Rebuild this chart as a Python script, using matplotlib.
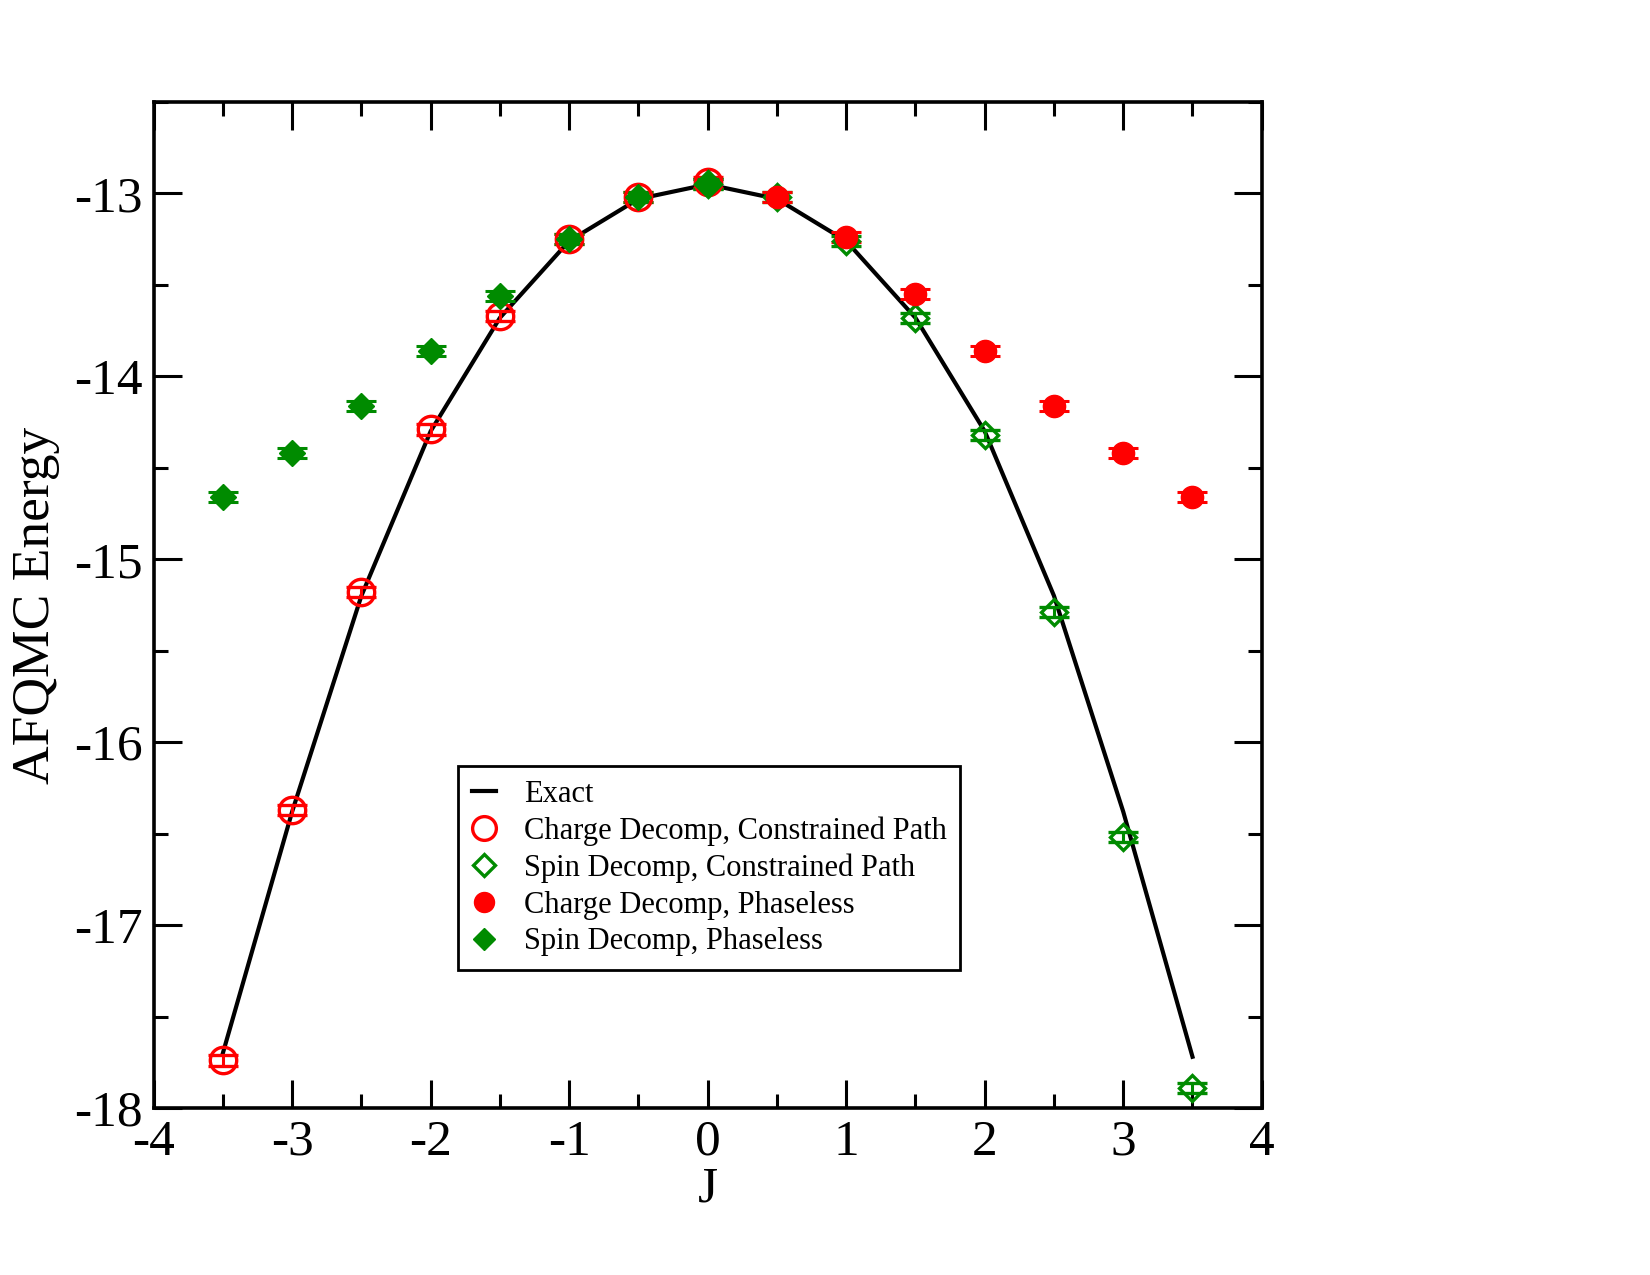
"""AFQMC energy vs J: exact curve with constrained-path and phaseless results."""

import matplotlib
matplotlib.use("Agg")
import matplotlib.pyplot as plt
from matplotlib.lines import Line2D
from matplotlib.ticker import MultipleLocator

plt.rcParams["font.family"] = ["Liberation Serif", "DejaVu Serif"]
plt.rcParams["axes.unicode_minus"] = False

# Exact energies
J_EXACT = [-3.5, -3.0, -2.5, -2.0, -1.5, -1.0, -0.5, 0.0,
           0.5, 1.0, 1.5, 2.0, 2.5, 3.0, 3.5]
E_EXACT = [-17.70, -16.38, -15.20, -14.30, -13.68, -13.26, -13.03, -12.95,
           -13.03, -13.26, -13.68, -14.30, -15.20, -16.38, -17.72]

# Charge decomposition, constrained path
J_CHARGE_CP = [-3.5, -3.0, -2.5, -2.0, -1.5, -1.0, -0.5, 0.0]
E_CHARGE_CP = [-17.74, -16.37, -15.18, -14.29, -13.67, -13.25, -13.02, -12.94]

# Spin decomposition, constrained path
J_SPIN_CP = [0.0, 0.5, 1.0, 1.5, 2.0, 2.5, 3.0, 3.5]
E_SPIN_CP = [-12.95, -13.02, -13.26, -13.68, -14.32, -15.29, -16.52, -17.89]

# Charge decomposition, phaseless
J_CHARGE_PL = [0.5, 1.0, 1.5, 2.0, 2.5, 3.0, 3.5]
E_CHARGE_PL = [-13.02, -13.24, -13.55, -13.86, -14.16, -14.42, -14.66]

# Spin decomposition, phaseless
J_SPIN_PL = [-3.5, -3.0, -2.5, -2.0, -1.5, -1.0, -0.5, 0.0]
E_SPIN_PL = [-14.66, -14.42, -14.16, -13.86, -13.56, -13.25, -13.02, -12.95]

ERR = 0.028

RED = "#ff0000"
GREEN = "#008b00"


def main():
    fig = plt.figure(figsize=(16.5, 12.75), dpi=100)
    ax = fig.add_axes([0.0931, 0.131, 0.6716, 0.789])

    ax.plot(J_EXACT, E_EXACT, color="black", lw=3.0, label="Exact", zorder=2)

    eb = dict(ls="none", capsize=11, capthick=2.2, elinewidth=2.2, zorder=3)
    ax.errorbar(J_CHARGE_CP, E_CHARGE_CP, yerr=ERR, color=RED, marker="o",
                ms=19, mfc="none", mec=RED, mew=2.4,
                label="Charge Decomp, Constrained Path", **eb)
    ax.errorbar(J_SPIN_CP, E_SPIN_CP, yerr=ERR, color=GREEN, marker="D",
                ms=13, mfc="none", mec=GREEN, mew=2.4,
                label="Spin Decomp, Constrained Path", **eb)
    ax.errorbar(J_CHARGE_PL, E_CHARGE_PL, yerr=ERR, color=RED, marker="o",
                ms=16, mfc=RED, mec=RED,
                label="Charge Decomp, Phaseless", **eb)
    ax.errorbar(J_SPIN_PL, E_SPIN_PL, yerr=ERR, color=GREEN, marker="D",
                ms=13, mfc=GREEN, mec=GREEN,
                label="Spin Decomp, Phaseless", **eb)

    ax.set_xlim(-4, 4)
    ax.set_ylim(-18, -12.5)
    ax.xaxis.set_major_locator(MultipleLocator(1))
    ax.xaxis.set_minor_locator(MultipleLocator(0.5))
    ax.yaxis.set_major_locator(MultipleLocator(1))
    ax.yaxis.set_minor_locator(MultipleLocator(0.5))
    ax.tick_params(which="both", direction="in", top=True, right=True,
                   width=2.2, labelsize=37, pad=8)
    ax.tick_params(which="major", length=20)
    ax.tick_params(which="minor", length=10)
    for s in ax.spines.values():
        s.set_linewidth(2.6)

    ax.set_xlabel("J", fontsize=37, labelpad=0)
    ax.set_ylabel("AFQMC Energy", fontsize=38.5, labelpad=10)

    handles, labels = ax.get_legend_handles_labels()
    # legend shows markers only, without the error bars
    new_handles = [handles[0]]
    for h in handles[1:]:
        m = h[0]
        new_handles.append(Line2D([], [], ls="none", marker=m.get_marker(),
                                  ms=m.get_markersize() * 0.9,
                                  mfc=m.get_markerfacecolor(),
                                  mec=m.get_markeredgecolor(),
                                  mew=m.get_markeredgewidth()))
    leg = ax.legend(new_handles, labels, loc="lower left",
                    bbox_to_anchor=(0.261, 0.122), fontsize=22,
                    frameon=True, fancybox=False, framealpha=1,
                    edgecolor="black", handlelength=0.8, handletextpad=0.9,
                    borderpad=0.45, labelspacing=0.25)
    leg.get_frame().set_linewidth(2.0)

    fig.savefig("out.png", dpi=100)
    plt.close(fig)


if __name__ == "__main__":
    main()
